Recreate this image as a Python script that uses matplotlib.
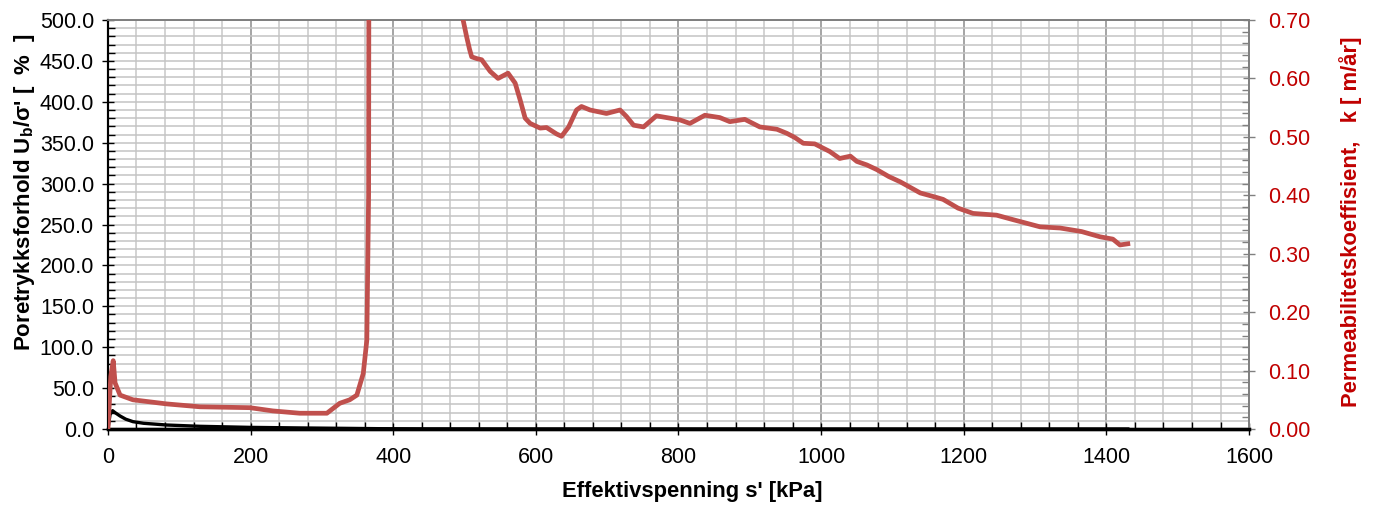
import matplotlib
matplotlib.use('Agg')
import matplotlib.pyplot as plt
from matplotlib.ticker import MultipleLocator, FormatStrFormatter

plt.rcParams['font.family'] = ['Liberation Sans', 'DejaVu Sans']
plt.rcParams['mathtext.fontset'] = 'custom'
plt.rcParams['mathtext.rm'] = 'Liberation Sans'
plt.rcParams['mathtext.bf'] = 'Liberation Sans:bold'

# Poretrykksforhold (venstre akse)
sig_b = [0, 3, 6.5, 10, 17, 25, 35, 50, 82, 129, 199, 270, 333, 380, 450,
         600, 800, 1000, 1200, 1430]
ub = [0, 18, 22.4, 20, 15.9, 12, 9, 7, 4.9, 3.3, 2.0, 1.3, 0.8, 0.4, 0.2,
      0.1, 0.1, 0.05, 0.05, 0.05]

# Permeabilitet (hoyre akse)
sig_k = [0, 4, 7.4, 10, 17, 35, 82, 129, 199, 231, 269, 307, 325, 339, 349,
         358, 363, 365.5, 366, 430, 495, 498, 503, 507, 510, 517, 524, 536, 547,
         561, 571, 578, 585, 592, 606, 615, 629, 636, 646, 657, 664, 676, 699,
         718, 727, 737, 751, 769, 788, 802, 816, 837, 858, 872, 893, 914, 938,
         952, 963, 975, 991, 1012, 1026, 1041, 1050, 1064, 1078, 1095, 1111,
         1139, 1157, 1171, 1192, 1213, 1246, 1270, 1307, 1335, 1365, 1391,
         1409, 1419, 1430]
k = [0, 0.09, 0.117, 0.079, 0.058, 0.050, 0.043, 0.038, 0.0365, 0.031, 0.027,
     0.027, 0.044, 0.050, 0.058, 0.095, 0.152, 0.40, 0.90, 1.30, 0.76, 0.70,
     0.671, 0.650, 0.637, 0.634, 0.632, 0.612, 0.600, 0.609, 0.592, 0.563,
     0.532, 0.523, 0.515, 0.516, 0.505, 0.501, 0.517, 0.546, 0.552, 0.546,
     0.540, 0.546, 0.535, 0.520, 0.517, 0.536, 0.532, 0.529, 0.523, 0.537,
     0.533, 0.526, 0.530, 0.517, 0.513, 0.506, 0.499, 0.489, 0.488, 0.475,
     0.463, 0.467, 0.458, 0.452, 0.444, 0.432, 0.423, 0.404, 0.398, 0.393,
     0.378, 0.369, 0.366, 0.358, 0.346, 0.344, 0.338, 0.329, 0.325, 0.315,
     0.317]

fig = plt.figure(figsize=(13.75, 5.17), dpi=100)
ax = fig.add_axes([0.0785, 0.1702, 0.8299, 0.7911])
ax2 = ax.twinx()

ax.plot(sig_b, ub, color='black', lw=2.4, zorder=3)
ax2.plot(sig_k, k, color='#C0504D', lw=3.4, zorder=3)

ax.set_xlim(0, 1600)
ax.set_ylim(0, 500)
ax2.set_ylim(0, 0.70)

ax.xaxis.set_major_locator(MultipleLocator(200))
ax.xaxis.set_minor_locator(MultipleLocator(40))
ax.yaxis.set_major_locator(MultipleLocator(50))
ax.yaxis.set_minor_locator(MultipleLocator(10))
ax.yaxis.set_major_formatter(FormatStrFormatter('%.1f'))
ax2.yaxis.set_major_locator(MultipleLocator(0.10))
ax2.yaxis.set_minor_locator(MultipleLocator(0.02))
ax2.yaxis.set_major_formatter(FormatStrFormatter('%.2f'))

ax.grid(which='major', axis='x', color='#8c8c8c', lw=1.1)
ax.grid(which='minor', axis='x', color='#c8c8c8', lw=1.1)
ax.grid(which='both', axis='y', color='#c4c4c4', lw=1.1)
ax.set_axisbelow(True)

ax.tick_params(axis='both', which='major', direction='inout', length=8,
               width=1.0, labelsize=15.5)
ax.tick_params(axis='x', which='major', pad=9)
ax.tick_params(axis='y', which='major', pad=6)
ax.tick_params(axis='both', which='minor', direction='in', length=5, width=1.0)
ax2.tick_params(axis='y', which='major', direction='inout', length=8,
                width=1.0, labelsize=15.5, labelcolor='#C00000', color='#808080', pad=10)
ax2.tick_params(axis='y', which='minor', direction='in', length=5,
                width=1.0, color='#808080')

for a in (ax, ax2):
    a.spines['top'].set_color('#808080')
    a.spines['right'].set_color('#808080')
    a.spines['left'].set_color('black')
    a.spines['bottom'].set_color('black')
    a.spines['bottom'].set_linewidth(2.4)
    a.spines['left'].set_linewidth(1.5)
    a.spines['top'].set_linewidth(1.3)
    a.spines['right'].set_linewidth(1.3)

ax.set_xlabel("Effektivspenning s' [kPa]", fontsize=15.8, fontweight='bold')
ax.xaxis.set_label_coords(0.512, -0.128)
ax.set_ylabel(r"Poretrykksforhold U$_\mathbf{b}$/σ' [  %  ]", fontsize=16,
              fontweight='bold')
ax.yaxis.set_label_coords(-0.062, 0.578)
ax2.set_ylabel("Permeabilitetskoeffisient,   k [ m/år]", fontsize=15.8,
               fontweight='bold', color='#C00000')
ax2.yaxis.set_label_coords(1.079, 0.506)

fig.savefig('out.png', dpi=100)
